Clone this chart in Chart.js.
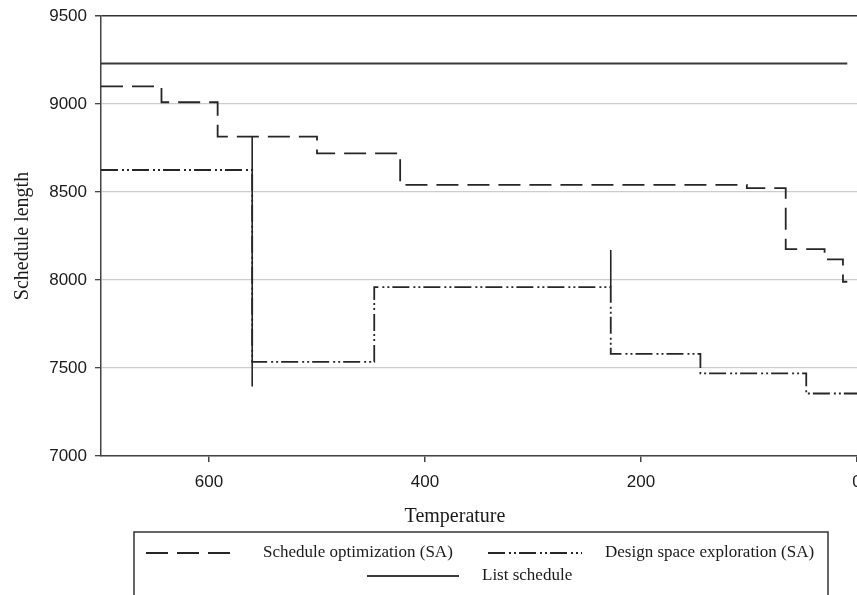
<!DOCTYPE html>
<html>
<head>
<meta charset="utf-8">
<script src="https://cdn.jsdelivr.net/npm/chart.js@4/dist/chart.umd.min.js"></script>
<style>
  html, body { margin: 0; padding: 0; background: #ffffff; }
  #wrap { width: 857px; height: 595px; position: relative; overflow: hidden; }
</style>
</head>
<body>
<div id="wrap"><canvas id="c" width="857" height="595"></canvas></div>
<script>
// ---- data ----
const xTickValues = [600, 400, 200, 0];
const yTickValues = [7000, 7500, 8000, 8500, 9000, 9500];

const seriesNames = ['Schedule optimization (SA)', 'Design space exploration (SA)', 'List schedule'];

// Step points: temperature where a level starts, and the level value
const soTemps  = [700, 644, 592, 500, 423, 102, 66, 30, 13, 9];
const soValues = [9100, 9010, 8815, 8720, 8540, 8522, 8175, 8117, 7990, 7990];

const dseTemps  = [700, 560, 447, 228, 145, 47, 0];
const dseValues = [8625, 7535, 7960, 7580, 7470, 7355, 7355];

const listTemps  = [700, 9];
const listValues = [9230, 9230];

// solid vertical marks
const markTemps  = [560, 228];
const markTop    = [8815, 8170];
const markBottom = [7395, 7960];

// ---- build datasets ----
const toPts = (xs, ys) => xs.map((x, i) => ({ x: x, y: ys[i] }));
const INK = '#262626';
const soDash = [22, 9];
const dseDash = [17, 4, 2, 3, 2, 3];

const datasets = [
  { label: seriesNames[0], data: toPts(soTemps, soValues), stepped: 'before',
    borderColor: INK, borderWidth: 1.8, borderDash: soDash, pointRadius: 0, fill: false },
  { label: seriesNames[1], data: toPts(dseTemps, dseValues), stepped: 'before',
    borderColor: INK, borderWidth: 1.8, borderDash: dseDash, pointRadius: 0, fill: false },
  { label: seriesNames[2], data: toPts(listTemps, listValues),
    borderColor: '#3a3a3a', borderWidth: 2, borderDash: [], pointRadius: 0, fill: false }
];
markTemps.forEach((t, i) => {
  datasets.push({ label: '', isMark: true, data: [{ x: t, y: markTop[i] }, { x: t, y: markBottom[i] }],
    borderColor: INK, borderWidth: 1.6, pointRadius: 0, fill: false });
});

const legendPlugin = {
  id: 'boxLegend',
  afterDraw(chart) {
    const ctx = chart.ctx;
    const ds = chart.data.datasets;
    ctx.save();
    // x-axis title
    ctx.fillStyle = '#1a1a1a';
    ctx.font = '20px "Liberation Serif"';
    ctx.textAlign = 'center';
    ctx.textBaseline = 'middle';
    ctx.fillText('Temperature', 455, 517);
    // legend box
    ctx.strokeStyle = '#333';
    ctx.lineWidth = 1.5;
    ctx.strokeRect(134, 532, 694, 90);
    const items = [
      { i: 0, x0: 146, x1: 231, tx: 263, y: 553 },
      { i: 1, x0: 488, x1: 582, tx: 605, y: 553 },
      { i: 2, x0: 367, x1: 459, tx: 482, y: 576 }
    ];
    ctx.font = '17px "Liberation Serif"';
    ctx.textAlign = 'left';
    items.forEach(it => {
      const d = ds[it.i];
      ctx.beginPath();
      ctx.setLineDash(d.borderDash || []);
      ctx.strokeStyle = d.borderColor;
      ctx.lineWidth = 1.8;
      ctx.moveTo(it.x0, it.y);
      ctx.lineTo(it.x1, it.y);
      ctx.stroke();
      ctx.setLineDash([]);
      ctx.fillStyle = '#1a1a1a';
      ctx.fillText(d.label, it.tx, it.y);
    });
    ctx.restore();
  }
};

new Chart(document.getElementById('c'), {
  type: 'line',
  data: { datasets: datasets },
  plugins: [legendPlugin],
  options: {
    responsive: false,
    devicePixelRatio: 1,
    animation: false,
    layout: { padding: { top: 16, left: 0, right: 0, bottom: 0 } },
    plugins: { legend: { display: false }, tooltip: { enabled: false } },
    scales: {
      x: {
        type: 'linear', reverse: true, min: 0, max: 700,
        afterBuildTicks: s => { s.ticks = xTickValues.map(v => ({ value: v })); },
        afterFit: s => { s.height = 139; s.paddingLeft = 0; s.paddingRight = 0; },
        grid: { drawOnChartArea: false, drawTicks: true, tickLength: 6, color: '#444', lineWidth: 1.5 },
        border: { display: true, color: '#444', width: 1.5 },
        ticks: { color: '#1a1a1a', font: { family: 'Liberation Sans', size: 17 }, padding: 10, maxRotation: 0,
                 callback: v => String(v) }
      },
      y: {
        type: 'linear', min: 7000, max: 9500,
        afterBuildTicks: s => { s.ticks = yTickValues.map(v => ({ value: v })); },
        afterFit: s => { s.width = 101; s.paddingTop = 0; s.paddingBottom = 0; },
        grid: {
          drawTicks: true, tickLength: 6, tickColor: '#444',
          color: c => (c.tick && c.tick.value === 9500) ? '#333' : '#cdcdcd',
          lineWidth: c => (c.tick && c.tick.value === 9500) ? 1.5 : 1.3
        },
        border: { display: true, color: '#444', width: 1.5 },
        ticks: { color: '#1a1a1a', font: { family: 'Liberation Sans', size: 17 }, padding: 8,
                 callback: v => String(v) },
        title: { display: true, text: 'Schedule length', color: '#1a1a1a',
                 font: { family: 'Liberation Serif', size: 20 }, padding: { top: 11, bottom: 4 } }
      }
    }
  }
});
</script>
</body>
</html>
